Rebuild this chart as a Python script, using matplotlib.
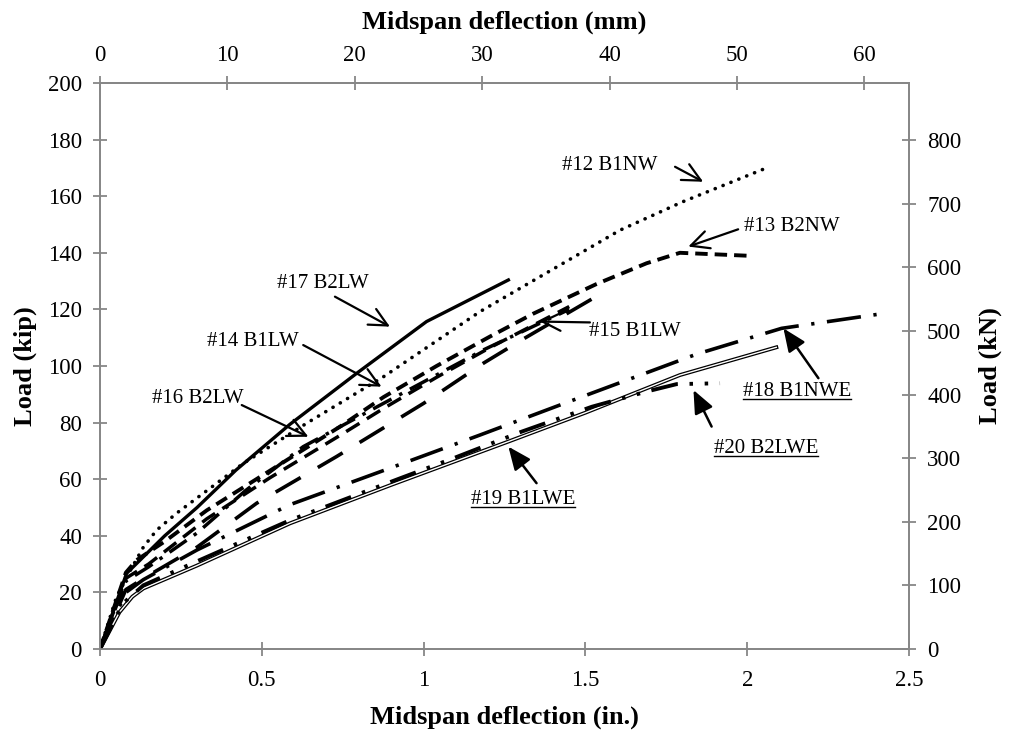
import matplotlib
matplotlib.use("Agg")
import matplotlib.pyplot as plt
from matplotlib.lines import Line2D

plt.rcParams['font.family'] = ['Liberation Serif', 'DejaVu Serif']

# Midspan deflection (in.) and load (kip) for each beam test
b12_defl = [0, 0.05, 0.09, 0.134, 0.175, 0.237, 0.319, 0.443, 0.639, 0.876, 1.174, 1.607, 1.8, 2.06]
b12_load = [0, 18, 27, 36, 42, 48, 55, 65.6, 79.8, 96.2, 119.2, 148, 158, 170]

b13_defl = [0, 0.08, 0.113, 0.2, 0.33, 0.525, 0.742, 0.876, 1.04, 1.205, 1.339, 1.535, 1.689, 1.792, 2.014]
b13_load = [0, 27, 31.4, 38, 49, 63, 78.6, 89, 100, 110.4, 118.5, 129, 136.3, 140, 138.9]

b14_defl = [0, 0.08, 0.15, 0.33, 0.525, 0.742, 0.876, 1.04, 1.205, 1.45]
b14_load = [0, 25, 30, 46, 60.5, 75.5, 85, 96, 106.5, 121]

b15_defl = [0, 0.08, 0.15, 0.3, 0.484, 0.731, 1.0, 1.185, 1.3, 1.54]
b15_load = [0, 21, 26, 36, 51.5, 68, 86.8, 101, 109, 125]

b16_defl = [0, 0.08, 0.15, 0.3, 0.45, 0.628, 0.876, 1.185, 1.45]
b16_load = [0, 24, 29, 41, 56, 71.5, 86.8, 105.7, 120]

b17_defl = [0, 0.04, 0.082, 0.2, 0.3, 0.42, 0.587, 0.793, 1.009, 1.262]
b17_load = [0, 13, 26.7, 40, 50, 63.2, 79.4, 97.4, 115.7, 130.4]

b18_defl = [0, 0.08, 0.134, 0.3, 0.587, 0.865, 1.174, 1.421, 1.844, 2.106, 2.436]
b18_load = [0, 20, 24.5, 35, 51, 62.6, 75.6, 86.2, 104.2, 113.3, 118.8]

b19_defl = [0, 0.06, 0.1, 0.134, 0.3, 0.587, 0.9, 1.262, 1.5, 1.792, 2.09]
b19_load = [0, 13, 18.5, 21.4, 29.5, 44.4, 58, 73.3, 83.5, 96.8, 106.6]

b20_defl = [0, 0.07, 0.134, 0.3, 0.587, 0.927, 1.092, 1.303, 1.52, 1.69, 1.782, 1.916]
b20_load = [0, 16, 22.5, 31, 45.5, 60.3, 67.4, 76.8, 85.6, 91, 93.6, 93.9]

kip_ticks = list(range(0, 201, 20))
kn_ticks = list(range(0, 801, 100))
in_ticks = [0, 0.5, 1, 1.5, 2, 2.5]
in_tick_labels = ['0', '0.5', '1', '1.5', '2', '2.5']
mm_ticks = list(range(0, 61, 10))

KIP_TO_KN = 4.448
IN_TO_MM = 25.4

W, H = 1010, 735
fig = plt.figure(figsize=(W / 100, H / 100), dpi=100)
ax = fig.add_axes([100 / W, (H - 649) / H, 809 / W, 566 / H])

axis_grey = '#878787'
tick_fs = 16.5
label_fs = 15

ax.set_xlim(0, 2.5)
ax.set_ylim(0, 200)
ax.set_xticks(in_ticks)
ax.set_xticklabels(in_tick_labels)
ax.set_yticks(kip_ticks)
for s in ax.spines.values():
    s.set_color(axis_grey)
    s.set_linewidth(1.3)
ax.tick_params(direction='inout', length=10, width=1.3, color=axis_grey,
               labelsize=tick_fs, pad=8)
ax.tick_params(axis='x', pad=10)

# right axis in kN
ax2 = ax.twinx()
ax2.set_ylim(0, 200 * KIP_TO_KN)
ax2.set_yticks(kn_ticks)
ax2.tick_params(direction='inout', length=10, width=1.3, color=axis_grey,
                labelsize=tick_fs, pad=8)
for s in ax2.spines.values():
    s.set_color(axis_grey)
    s.set_linewidth(1.3)

# top axis in mm
secx = ax.secondary_xaxis('top', functions=(lambda v: v * IN_TO_MM, lambda v: v / IN_TO_MM))
secx.set_xticks(mm_ticks)
secx.tick_params(direction='inout', length=10, width=1.3, color=axis_grey,
                 labelsize=tick_fs, pad=7)
secx.spines['top'].set_color(axis_grey)
secx.spines['top'].set_linewidth(1.3)

# curves
ax.plot(b17_defl, b17_load, color='black', lw=2.4, solid_joinstyle='round', zorder=5)
ax.plot(b12_defl, b12_load, color='black', lw=2.6, linestyle=(0, (0.05, 2.3)),
        dash_capstyle='round', zorder=5)
ax.plot(b13_defl, b13_load, color='black', lw=2.8, linestyle=(0, (3.2, 1.8)), zorder=5)
ax.plot(b14_defl, b14_load, color='black', lw=2.5, linestyle=(0, (4.5, 2.5)), zorder=5)
ax.plot(b16_defl, b16_load, color='black', lw=2.5, linestyle=(0, (6, 2.5, 1, 2.5)), zorder=5)
ax.plot(b15_defl, b15_load, color='black', lw=2.6, linestyle=(0, (8, 5.5)), zorder=5)
ax.plot(b18_defl, b18_load, color='black', lw=2.6, linestyle=(0, (9.5, 3.5, 0.9, 3.5)), zorder=5)
ax.plot(b19_defl, b19_load, color='black', lw=2.8, zorder=5)
ax.plot(b19_defl, b19_load, color='white', lw=1.0, zorder=5)
ax.plot(b20_defl, b20_load, color='black', lw=2.8,
        linestyle=(0, (7, 3, 0.9, 3, 0.9, 3)), zorder=6)

# labels and arrows
open_head = dict(arrowstyle='->,head_length=0.65,head_width=0.32', lw=1.6,
                 color='black', mutation_scale=20, shrinkA=0, shrinkB=0)
solid_head = dict(arrowstyle='-|>,head_length=0.7,head_width=0.3', lw=1.8,
                  color='black', mutation_scale=20, shrinkA=0, shrinkB=0)

labels = [
    ('#12 B1NW', (1.576, 170.7), (1.777, 170.4), (1.864, 165.1), open_head, False),
    ('#13 B2NW', (2.137, 149.2), (1.972, 148.3), (1.818, 142.2), open_head, False),
    ('#15 B1LW', (1.653, 112.1), (1.514, 115.4), (1.36, 115.7), open_head, False),
    ('#17 B2LW', (0.688, 129.2), (0.726, 124.5), (0.896, 113.9), open_head, False),
    ('#14 B1LW', (0.471, 108.6), (0.628, 107.4), (0.870, 92.7), open_head, False),
    ('#16 B2LW', (0.301, 88.6), (0.438, 86.2), (0.644, 75.0), open_head, False),
    ('#18 B1NWE', (2.153, 90.9), (2.22, 95.7), (2.112, 113.3), solid_head, True),
    ('#20 B2LWE', (2.058, 70.7), (1.89, 78.6), (1.834, 91.5), solid_head, True),
    ('#19 B1LWE', (1.307, 52.7), (1.349, 58.6), (1.262, 71.5), solid_head, True),
]

underlined = []
for text, pos, tail, head, style, ul in labels:
    t = ax.text(pos[0], pos[1], text, fontsize=label_fs, ha='center', va='center', zorder=7)
    ax.annotate('', xy=head, xytext=tail, arrowprops=style, zorder=7)
    if ul:
        underlined.append(t)

# axis titles
fig.text(504.5 / W, 1 - 717 / H, 'Midspan deflection (in.)', fontsize=19,
         fontweight='bold', ha='center', va='center')
fig.text(504.5 / W, 1 - 22 / H, 'Midspan deflection (mm)', fontsize=19,
         fontweight='bold', ha='center', va='center')
fig.text(25 / W, 1 - 366 / H, 'Load (kip)', fontsize=19, fontweight='bold',
         rotation=90, ha='center', va='center')
fig.text(990 / W, 1 - 366 / H, 'Load (kN)', fontsize=19, fontweight='bold',
         rotation=90, ha='center', va='center')

# underline the specimen labels that carry one
fig.canvas.draw()
renderer = fig.canvas.get_renderer()
for t in underlined:
    bb = t.get_window_extent(renderer)
    y = bb.y0 + 2.5
    fig.add_artist(Line2D([bb.x0 / W, bb.x1 / W], [y / H, y / H],
                          transform=fig.transFigure, color='black', lw=1.0))

fig.savefig('out.png', dpi=100)
